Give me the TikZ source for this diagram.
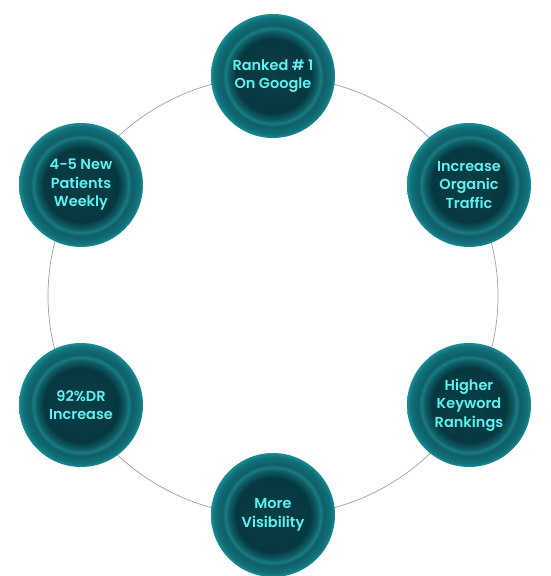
\documentclass[tikz,border=0pt]{standalone}
\usepackage{fontspec}
\setmainfont{Poppins}[UprightFont={* SemiBold}]
\usetikzlibrary{positioning}
\definecolor{orbtext}{HTML}{5EF0EE}
\definecolor{orbcore}{HTML}{0A3F47}
\definecolor{orbdark}{HTML}{063840}
\definecolor{orbband}{HTML}{1A7C84}
\definecolor{orbmid}{HTML}{0F5E66}
\definecolor{orbouter}{HTML}{11707A}
\definecolor{orbedge}{HTML}{1A8E96}
\definecolor{ringgray}{HTML}{A0A0A0}
\pgfdeclareradialshading{orbshade}{\pgfpoint{0bp}{0bp}}{color(0bp)=(orbcore); color(15bp)=(orbdark); color(18bp)=(orbmid); color(19.2bp)=(orbband); color(20.5bp)=(orbmid); color(23.5bp)=(orbouter); color(25bp)=(orbedge); color(50bp)=(orbedge)}

\begin{document}
\begin{tikzpicture}[x=1pt, y=1pt, every node/.style={align=center}]
  \tikzset{orb/.style={circle, minimum size=124pt, inner sep=0pt, shading=orbshade, text=orbtext, font=\fontsize{14.5}{18.5}\selectfont}}
  \useasboundingbox (0,0) rectangle (550,576);
  \coordinate (ctr) at (273,280);
  \draw[ringgray, line width=0.7pt] (ctr) ellipse [x radius=225, y radius=220];
  \node[orb] (rank) at (273,500) {Ranked \# 1\\On Google};
  \node[orb] (traffic) at (469,391) {Increase\\Organic\\Traffic};
  \node[orb] (keyword) at (469,171) {Higher\\Keyword\\Rankings};
  \node[orb] (visib) at (273,61) {More\\Visibility};
  \node[orb] (dr) at (81,171) {92\%DR\\Increase};
  \node[orb] (patients) at (81,391) {4-5 New\\Patients\\Weekly};
\end{tikzpicture}
\end{document}
